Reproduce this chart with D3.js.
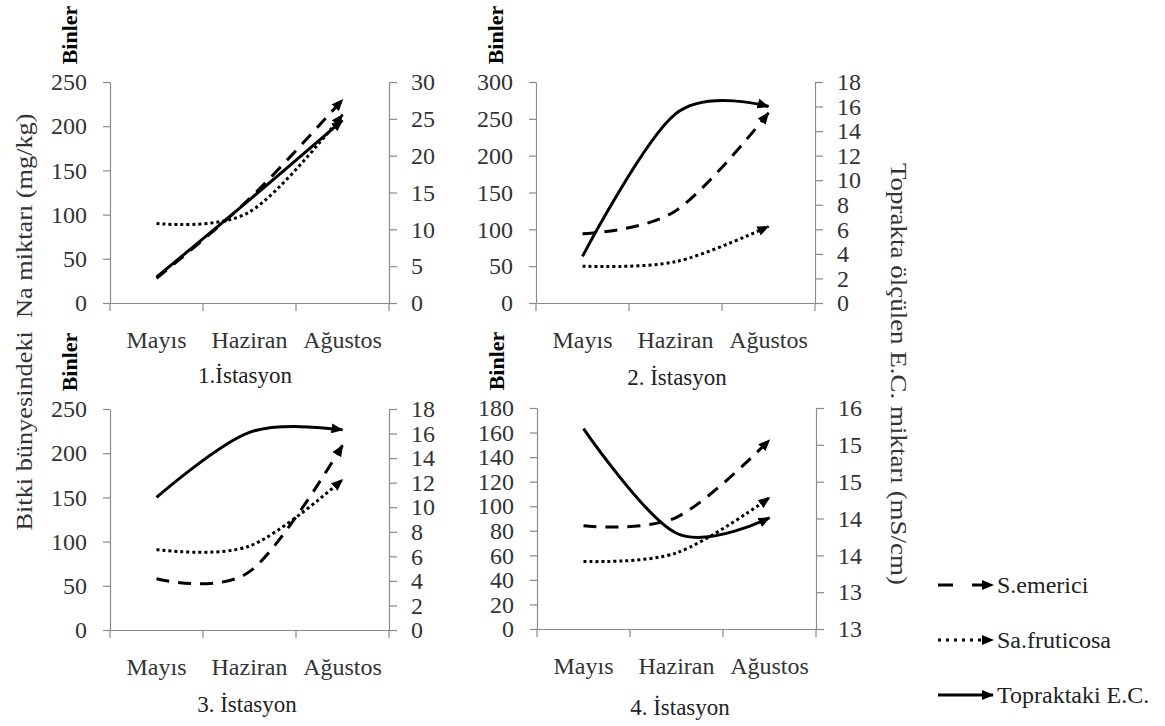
<!DOCTYPE html>
<html>
<head>
<meta charset="utf-8">
<script src="https://cdn.jsdelivr.net/npm/d3@7"></script>
<style>
  body { margin: 0; background: #fff; }
</style>
</head>
<body>
<script>
// Data
const months = ["Mayıs", "Haziran", "Ağustos"]
const stations = ["1.İstasyon", "2. İstasyon", "3. İstasyon", "4. İstasyon"]

// plant Na (Binler, left axis)
const sEmerici = [[28, 118, 230], [94, 125, 258], [58, 66, 209], [84, 91, 154]]
const saFruticosa = [[90, 103, 213], [50, 56, 104], [91, 95, 170], [55, 62, 107]]
// soil E.C. (right axis)
const toprakEC = [[3.5, 14, 24.8], [3.8, 15.4, 16.0], [10.8, 16.1, 16.3], [15.72, 14.3, 14.51]]

const leftTicks = [
    [0, 50, 100, 150, 200, 250],
    [0, 50, 100, 150, 200, 250, 300],
    [0, 50, 100, 150, 200, 250],
    [0, 20, 40, 60, 80, 100, 120, 140, 160, 180]
]
const rightTicks = [
    [0, 5, 10, 15, 20, 25, 30],
    [0, 2, 4, 6, 8, 10, 12, 14, 16, 18],
    [0, 2, 4, 6, 8, 10, 12, 14, 16, 18],
    [13, 13.5, 14, 14.5, 15, 15.5, 16]
]
const rightLabels4 = ["13", "13", "14", "14", "15", "15", "16"]

const legendLabels = ["S.emerici", "Sa.fruticosa", "Topraktaki E.C."]

// layout
const W = 279, H = 221
const origins = [[110, 82], [536, 82], [110, 409], [537, 408]]
const titlePos = [[245, 383], [677, 385], [247, 712], [680, 715]]
const axisGray = "#8a8a8a"
const textCol = "#333"
const serif = '"Liberation Serif", "Times New Roman", Times, serif'

const svg = d3.select("body").append("svg")
    .attr("width", 1165).attr("height", 726)
    .style("font-family", serif)

svg.append("defs").append("marker")
    .attr("id", "arrow")
    .attr("markerUnits", "userSpaceOnUse")
    .attr("viewBox", "0 0 12 10")
    .attr("markerWidth", 12).attr("markerHeight", 10)
    .attr("refX", 11).attr("refY", 5)
    .attr("orient", "auto")
    .append("path").attr("d", "M0,0L12,5L0,10Z").attr("fill", "#000")

const styles = [
    {dash: "13,9", legendDash: "15,19"},
    {dash: "3,3", legendDash: "3,5"},
    {dash: null, legendDash: null}
]

function styleAxis(sel){
    sel.attr("font-family", null).style("font-family", serif)
    sel.selectAll(".domain").attr("stroke", axisGray).attr("stroke-width", 1.2)
    sel.selectAll(".tick line").attr("stroke", axisGray).attr("stroke-width", 1.2)
    sel.selectAll("text").attr("fill", textCol)
        .style("font-size", "24px").style("font-family", serif)
}

stations.forEach((name, i) => {
    let [ox, oy] = origins[i]
    let g = svg.append("g").attr("transform", `translate(${ox},${oy})`)

    let x = d3.scaleBand(months, [0, W])
    let yL = d3.scaleLinear([0, d3.max(leftTicks[i])], [H, 0])
    let yR = d3.scaleLinear(d3.extent(rightTicks[i]), [H, 0])

    // axes
    g.append("g")
        .call(d3.axisLeft(yL).tickValues(leftTicks[i]).tickSize(7).tickSizeOuter(0).tickPadding(16))
        .call(styleAxis)

    let rAxis = d3.axisRight(yR).tickValues(rightTicks[i]).tickSize(8).tickSizeOuter(0).tickPadding(14)
    if (i == 3) rAxis.tickFormat((d, j) => rightLabels4[j])
    g.append("g").attr("transform", `translate(${W},0)`)
        .call(rAxis)
        .call(styleAxis)

    g.append("g").attr("transform", `translate(0,${H})`)
        .call(d3.axisBottom(x).tickSize(0).tickSizeOuter(0).tickPadding(28))
        .call(styleAxis)

    // category boundary ticks
    let bounds = [0].concat(months.map((m) => x(m) + x.bandwidth()))
    g.selectAll(".btick").data(bounds).join("line")
        .attr("x1", (d) => d).attr("x2", (d) => d)
        .attr("y1", H).attr("y2", H + 8)
        .attr("stroke", axisGray).attr("stroke-width", 1.2)

    // lines
    let cx = (d, j) => x(months[j]) + x.bandwidth() / 2
    let lineL = d3.line().x(cx).y((d) => yL(d)).curve(d3.curveCardinal)
    let lineR = d3.line().x(cx).y((d) => yR(d)).curve(d3.curveCardinal)

    let series = [
        {vals: sEmerici[i], gen: lineL, st: styles[0]},
        {vals: saFruticosa[i], gen: lineL, st: styles[1]},
        {vals: toprakEC[i], gen: lineR, st: styles[2]}
    ]
    series.forEach((s) => {
        g.append("path")
            .attr("d", s.gen(s.vals))
            .attr("fill", "none")
            .attr("stroke", "#000")
            .attr("stroke-width", 3)
            .attr("stroke-dasharray", s.st.dash)
            .attr("marker-end", "url(#arrow)")
    })

    // "Binler" unit label
    svg.append("text")
        .attr("transform", `translate(${ox - 33},${oy - 47}) rotate(-90)`)
        .attr("text-anchor", "middle")
        .style("font-size", "22px").attr("font-weight", "bold")
        .attr("fill", "#000")
        .text("Binler")

    // station title
    svg.append("text")
        .attr("x", titlePos[i][0]).attr("y", titlePos[i][1])
        .attr("text-anchor", "middle")
        .style("font-size", "23px").attr("fill", "#222")
        .text(name)
})

// axis titles
svg.append("text")
    .attr("transform", "translate(32,322) rotate(-90)")
    .attr("text-anchor", "middle")
    .style("font-size", "24px").attr("fill", textCol)
    .style("white-space", "pre")
    .attr("textLength", 417).attr("lengthAdjust", "spacingAndGlyphs")
    .text("Bitki bünyesindeki  Na miktarı (mg/kg)")

svg.append("text")
    .attr("transform", "translate(891,374) rotate(90)")
    .attr("text-anchor", "middle")
    .style("font-size", "24px").attr("fill", textCol)
    .attr("textLength", 422).attr("lengthAdjust", "spacingAndGlyphs")
    .text("Toprakta ölçülen E.C. miktarı (mS/cm)")

// legend
let legendY = d3.scalePoint(legendLabels, [585, 695])
let legend = svg.selectAll(".leg").data(legendLabels).join("g")
    .attr("transform", (d) => `translate(938,${legendY(d)})`)
legend.append("path")
    .attr("d", "M0,0H55")
    .attr("stroke", "#000").attr("stroke-width", 3)
    .attr("stroke-dasharray", (d, j) => styles[j].legendDash)
    .attr("marker-end", "url(#arrow)")
legend.append("text")
    .attr("x", 59).attr("y", 8)
    .style("font-size", "24px").attr("fill", "#222")
    .text((d) => d)
</script>
</body>
</html>
